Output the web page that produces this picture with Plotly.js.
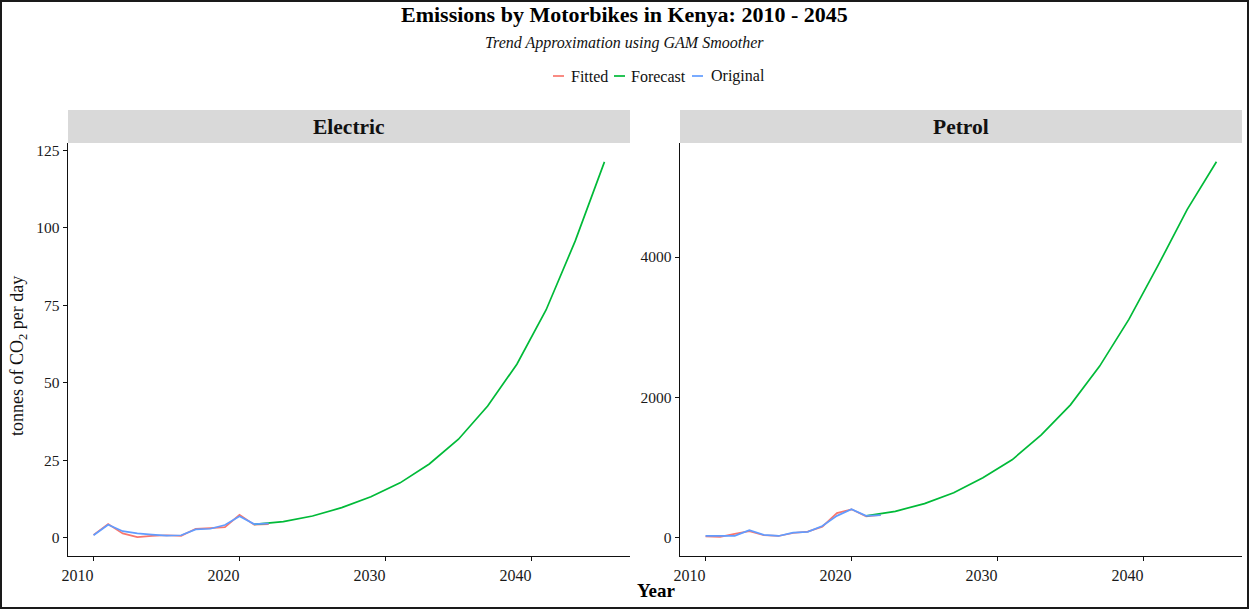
<!DOCTYPE html>
<html>
<head>
<meta charset="utf-8">
<script src="https://cdn.plot.ly/plotly-3.0.1.min.js"></script>
<style>
  html, body { margin: 0; padding: 0; background: #fff; }
  #wrap { position: relative; width: 1249px; height: 611px; }
  #chart { width: 1249px; height: 611px; }
  #frame { position: absolute; left: 0; top: 0; width: 1245px; height: 605px;
           border: 2px solid #1a1a1a; pointer-events: none; }
</style>
</head>
<body>
<div id="wrap">
  <div id="chart"></div>
  <div id="frame"></div>
</div>
<script>
// Observed years and emission values (tonnes of CO2 per day)
const years = [2010, 2011, 2012, 2013, 2014, 2015, 2016, 2017, 2018, 2019, 2020, 2021, 2022];
const electricOriginal = [0.8, 4.2, 2.1, 1.4, 1.0, 0.7, 0.8, 2.7, 2.9, 4.1, 6.9, 4.4, 4.6];
const electricFitted   = [0.9, 4.4, 1.4, 0.2, 0.6, 0.8, 0.6, 2.9, 3.1, 3.4, 7.4, 4.2, 4.4];
const petrolOriginal   = [18, 14, 20, 100, 33, 18, 66, 76, 160, 305, 400, 305, 315];
const petrolFitted     = [12, 5, 48, 88, 28, 18, 60, 80, 150, 345, 398, 298, 320];

// GAM forecast
const forecastYears    = [2021, 2023, 2025, 2027, 2029, 2031, 2033, 2035, 2037, 2039, 2041, 2043, 2045];
const electricForecast = [4.3, 5.2, 7.0, 9.7, 13.2, 17.7, 23.8, 31.8, 42.5, 56.0, 73.5, 95.8, 121.3];
const petrolForecast   = [305, 370, 480, 634, 850, 1105, 1460, 1890, 2443, 3110, 3880, 4680, 5360];

const seriesNames = ['Fitted', 'Forecast', 'Original'];
const facetNames  = ['Electric', 'Petrol'];
const xTicks      = [2010, 2020, 2030, 2040];
const electricTicks = [0, 25, 50, 75, 100, 125];
const petrolTicks   = [0, 2000, 4000];

const colors = { Fitted: '#F8766D', Forecast: '#00BA38', Original: '#619CFF' };
const FONT = '"Liberation Serif", "Times New Roman", serif';
const W = 1249, H = 611;
const px = v => v / W;
const py = v => 1 - v / H;

function line(x, y, name, xa, ya) {
  return { type: 'scatter', mode: 'lines', x: x, y: y, name: name,
           xaxis: xa, yaxis: ya, showlegend: false, hoverinfo: 'x+y',
           line: { color: colors[name], width: 1.7 } };
}

const traces = [
  line(years, electricFitted, 'Fitted', 'x', 'y'),
  line(forecastYears, electricForecast, 'Forecast', 'x', 'y'),
  line(years, electricOriginal, 'Original', 'x', 'y'),
  line(years, petrolFitted, 'Fitted', 'x2', 'y2'),
  line(forecastYears, petrolForecast, 'Forecast', 'x2', 'y2'),
  line(years, petrolOriginal, 'Original', 'x2', 'y2')
];

const xBase = {
  range: [2008.25, 2046.75], tickvals: xTicks, showgrid: false, zeroline: false,
  showline: true, linecolor: '#111', linewidth: 1.4,
  ticks: 'outside', ticklen: 4, tickcolor: '#111', tickwidth: 1,
  ticklabelshift: -16,
  tickfont: { family: FONT, size: 16, color: '#1a1a1a' }, fixedrange: true
};
const yBase = {
  domain: [py(556), py(143)], showgrid: false, zeroline: false,
  showline: true, linecolor: '#111', linewidth: 1.4,
  ticks: 'outside', ticklen: 4, tickcolor: '#111', tickwidth: 1,
  tickfont: { family: FONT, size: 15.5, color: '#1a1a1a' }, fixedrange: true
};

const panels = [[68, 630], [680, 1242]];

const shapes = [];
const annotations = [];

// facet strips
panels.forEach((p, i) => {
  shapes.push({ type: 'rect', xref: 'paper', yref: 'paper', layer: 'below',
    x0: px(p[0]), x1: px(p[1]), y0: py(143), y1: py(110),
    fillcolor: '#d9d9d9', line: { width: 0 } });
  annotations.push({ xref: 'paper', yref: 'paper', x: px((p[0] + p[1]) / 2), y: py(127),
    text: '<b>' + facetNames[i] + '</b>', showarrow: false,
    xanchor: 'center', yanchor: 'middle',
    font: { family: FONT, size: 21.5, color: '#111' } });
});

// titles
annotations.push({ xref: 'paper', yref: 'paper', x: 0.5, y: py(15), showarrow: false,
  text: '<b>Emissions by Motorbikes in Kenya: 2010 - 2045</b>',
  xanchor: 'center', yanchor: 'middle', font: { family: FONT, size: 22, color: '#000' } });
annotations.push({ xref: 'paper', yref: 'paper', x: 0.5, y: py(43), showarrow: false,
  text: '<i>Trend Approximation using GAM Smoother</i>',
  xanchor: 'center', yanchor: 'middle', font: { family: FONT, size: 16, color: '#111' } });
annotations.push({ xref: 'paper', yref: 'paper', x: px(656), y: py(590), showarrow: false,
  text: '<b>Year</b>', xanchor: 'center', yanchor: 'middle',
  font: { family: FONT, size: 19, color: '#000' } });
annotations.push({ xref: 'paper', yref: 'paper', x: px(18), y: py(356), showarrow: false,
  text: 'tonnes of CO<sub>2</sub> per day', textangle: -90,
  xanchor: 'center', yanchor: 'middle', font: { family: FONT, size: 18, color: '#111' } });

// legend keys
const legendKeys = [[553, 569], [614, 629], [692, 709]];
seriesNames.forEach((name, i) => {
  const k = legendKeys[i];
  shapes.push({ type: 'line', xref: 'paper', yref: 'paper',
    x0: px(k[0]), x1: px(k[0] + 11), y0: py(76), y1: py(76),
    line: { color: colors[name], width: 1.7 } });
  annotations.push({ xref: 'paper', yref: 'paper', x: px(k[1]), y: py(76), showarrow: false,
    text: name, xanchor: 'left', yanchor: 'middle',
    font: { family: FONT, size: 16, color: '#111' } });
});

const layout = {
  width: W, height: H,
  margin: { l: 0, r: 0, t: 0, b: 0 },
  paper_bgcolor: '#fff', plot_bgcolor: '#fff',
  showlegend: false,
  xaxis:  Object.assign({}, xBase, { domain: [px(panels[0][0]), px(panels[0][1])], anchor: 'y' }),
  xaxis2: Object.assign({}, xBase, { domain: [px(panels[1][0]), px(panels[1][1])], anchor: 'y2' }),
  yaxis:  Object.assign({}, yBase, { range: [-5.9, 127.4], tickvals: electricTicks, anchor: 'x' }),
  yaxis2: Object.assign({}, yBase, { range: [-268, 5628], tickvals: petrolTicks, anchor: 'x2' }),
  shapes: shapes,
  annotations: annotations
};

Plotly.newPlot('chart', traces, layout, { displayModeBar: false, staticPlot: true });
</script>
</body>
</html>
